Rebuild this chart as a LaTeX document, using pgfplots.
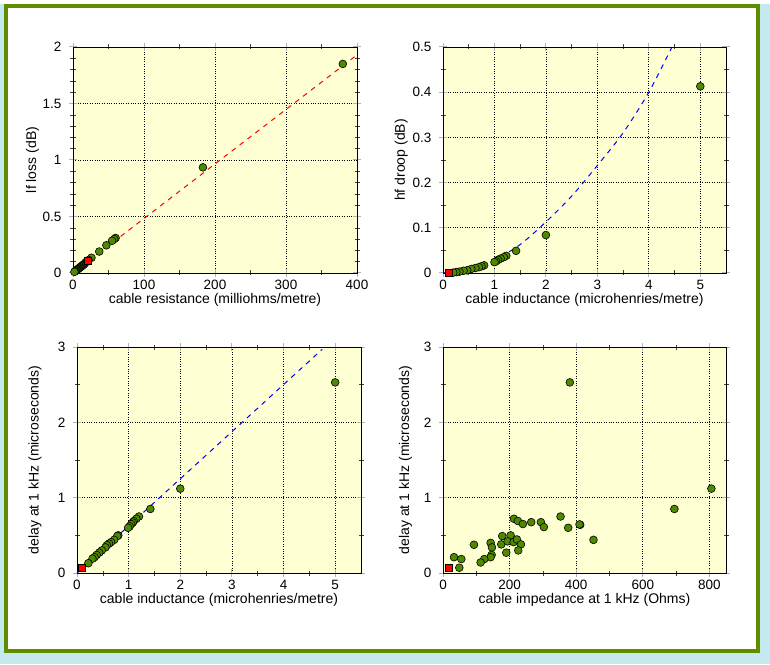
\documentclass[border=0pt]{standalone}
\usepackage{pgfplots}
\pgfplotsset{compat=1.18}
\usepackage{fontspec}
\setmainfont{Liberation Sans}
\definecolor{bgy}{RGB}{255,255,212}
\definecolor{ptg}{RGB}{79,137,0}
\definecolor{frm}{RGB}{96,140,0}
\definecolor{shd}{RGB}{196,234,240}

\pgfplotsset{
  myax/.style={
    scale only axis, width=284pt, height=226pt,
    anchor=south west, clip=false,
    axis background/.style={fill=bgy},
    grid=major,
    major grid style={black, dotted, line width=0.7pt},
    major tick length=8pt, minor tick length=5pt, tick align=center,
    every major tick/.style={gray!60, line width=1pt},
    every minor tick/.style={black!75, line width=0.5pt},
    axis line style={black, line width=0.8pt},
    ticklabel style={font=\fontsize{13.5}{15}\selectfont},
    /pgf/number format/assume math mode=true,
    xticklabel shift=0pt,
    yticklabel shift=4pt,
    xlabel style={font=\fontsize{14}{16}\selectfont, at={(axis description cs:0.5,-0.135)}, anchor=base},
    ylabel style={font=\fontsize{14}{16}\selectfont, anchor=base},
  },
  gpts/.style={only marks, mark=*, mark size=3.9pt, mark options={fill=ptg, draw=black, line width=0.6pt}},
  rpt/.style={only marks, mark=square*, mark size=3.5pt, mark options={fill=red, draw=black, line width=0.6pt}},
}

\begin{document}
\begin{tikzpicture}[x=1pt,y=1pt]
\useasboundingbox (0,0) rectangle (770,664);
\fill[white] (0,0) rectangle (770,664);
\fill[shd] (0,0) rectangle (770,660);
\fill[white] (6,13) rectangle (758,658);
\draw[frm, line width=4pt] (6,13) rectangle (758,658);

% Panel 1: lf loss vs resistance
\begin{axis}[myax, at={(73pt,391pt)},
  xmin=0, xmax=400, ymin=0, ymax=2,
  xtick={0,100,200,300,400}, ytick={0,0.5,1,1.5,2},
  minor x tick num=1, minor y tick num=4,
  xlabel={cable resistance (milliohms/metre)},
  ylabel={lf loss (dB)},
  ylabel style={at={(axis description cs:-0.13,0.5)}}]
\addplot[red, dashed, dash pattern=on 5pt off 5pt, line width=1pt] coordinates {(0,0) (400,1.93)};
\addplot[gpts] coordinates {
(380,1.85) (183,0.935) (60,0.31) (58,0.30) (55,0.285) (47,0.245) (37,0.19)
(26,0.135) (22,0.115) (18,0.095) (16,0.08) (15,0.075) (14,0.07) (13,0.065)
(12,0.06) (11,0.055) (10,0.05) (9,0.045) (8,0.04) (7,0.035) (6,0.03)
(5,0.025) (4,0.02) (3,0.015) (2,0.01)};
\addplot[rpt] coordinates {(20.5,0.108)};
\end{axis}

% Panel 2: hf droop vs inductance
\begin{axis}[myax, at={(443pt,391pt)}, width=283pt,
  xmin=0, xmax=5.5, ymin=0, ymax=0.5,
  xtick={0,1,2,3,4,5}, ytick={0,0.1,0.2,0.3,0.4,0.5},
  minor x tick num=1, minor y tick num=1,
  xlabel={cable inductance (microhenries/metre)},
  ylabel={hf droop (dB)},
  ylabel style={at={(axis description cs:-0.135,0.5)}}]
\addplot[blue, dashed, dash pattern=on 5pt off 5pt, line width=1pt, smooth] coordinates {
(0,0) (0.5,0.009) (1,0.029) (1.5,0.063) (2,0.113) (2.5,0.17) (3,0.238)
(3.5,0.31) (4,0.40) (4.45,0.50)};
\addplot[gpts] coordinates {
(5.0,0.413) (2.0,0.084) (1.42,0.049) (1.23,0.038) (1.18,0.035) (1.12,0.032)
(1.07,0.029) (1.03,0.026) (1.0,0.024) (0.80,0.017) (0.75,0.015) (0.70,0.013)
(0.63,0.011) (0.55,0.009) (0.47,0.006) (0.40,0.005) (0.32,0.003) (0.26,0.002)
(0.20,0.001)};
\addplot[rpt] coordinates {(0.12,0.0)};
\end{axis}

% Panel 3: delay vs inductance
\begin{axis}[myax, at={(77pt,91pt)},
  xmin=0, xmax=5.5, ymin=0, ymax=3,
  xtick={0,1,2,3,4,5}, ytick={0,1,2,3},
  minor x tick num=1, minor y tick num=1,
  xlabel={cable inductance (microhenries/metre)},
  ylabel={delay at 1 kHz (microseconds)},
  ylabel style={at={(axis description cs:-0.135,0.5)}}]
\addplot[blue, dashed, dash pattern=on 5pt off 5pt, line width=1pt] coordinates {(0,0) (4.75,2.97)};
\addplot[gpts] coordinates {
(5.0,2.53) (2.0,1.12) (1.42,0.85) (1.2,0.75) (1.15,0.72) (1.1,0.69) (1.08,0.67)
(1.05,0.65) (1.02,0.62) (0.99,0.60) (0.80,0.50) (0.78,0.49) (0.72,0.44)
(0.66,0.41) (0.62,0.39) (0.58,0.37) (0.55,0.34) (0.48,0.30) (0.43,0.27)
(0.38,0.24) (0.34,0.21) (0.30,0.19) (0.22,0.13)};
\addplot[rpt] coordinates {(0.1,0.07)};
\end{axis}

% Panel 4: delay vs impedance
\begin{axis}[myax, at={(443pt,91pt)}, width=283pt,
  xmin=0, xmax=850, ymin=0, ymax=3,
  xtick={0,200,400,600,800}, ytick={0,1,2,3},
  minor x tick num=1, minor y tick num=1,
  xlabel={cable impedance at 1 kHz (Ohms)},
  ylabel={delay at 1 kHz (microseconds)},
  ylabel style={at={(axis description cs:-0.12,0.5)}}]
\addplot[gpts] coordinates {
(381,2.53) (806,1.12) (695,0.85) (353,0.75) (213,0.72) (225,0.69) (240,0.65)
(265,0.675) (294,0.675) (303,0.61) (376,0.60) (412,0.64) (410,0.645) (452,0.44)
(178,0.49) (203,0.50) (175,0.38) (194,0.42) (212,0.41) (222,0.445) (234,0.38)
(226,0.30) (190,0.27) (143,0.40) (147,0.34) (146,0.24) (143,0.21) (124,0.185)
(113,0.14) (93,0.375) (33,0.21) (55,0.185) (49,0.07)};
\addplot[rpt] coordinates {(17,0.07)};
\end{axis}
\end{tikzpicture}
\end{document}
